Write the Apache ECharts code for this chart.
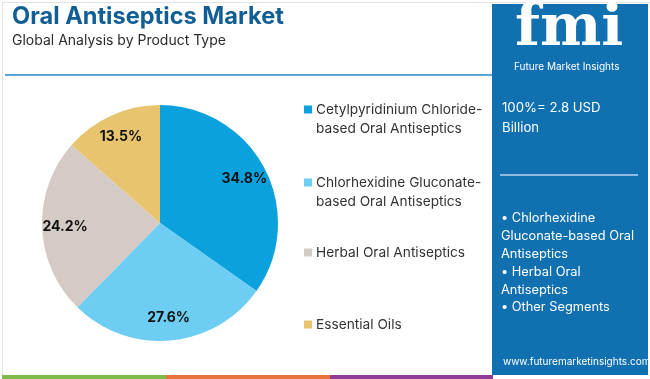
<!DOCTYPE html>
<html><head><meta charset="utf-8">
<script src="https://cdn.jsdelivr.net/npm/echarts@6/dist/echarts.min.js"></script>
<style>html,body{margin:0;padding:0;background:#fff}#c{width:650px;height:379px}</style>
</head><body><div id="c"></div>
<script>
const categories = [
  'Cetylpyridinium Chloride-\nbased Oral Antiseptics',
  'Chlorhexidine Gluconate-\nbased Oral Antiseptics',
  'Herbal Oral Antiseptics',
  'Essential Oils'
];
const values = [34.8, 27.6, 24.2, 13.5];
const colors = ['#0aa1dc', '#6dcdf2', '#d5cbc6', '#e8c46e'];
const titleText = 'Oral Antiseptics Market';
const subtitleText = 'Global Analysis by Product Type';
const totalText = ['100%= 2.8 USD', 'Billion'];
const bulletLines = ['• Chlorhexidine', 'Gluconate-based Oral', 'Antiseptics', '• Herbal Oral', 'Antiseptics', '• Other Segments'];
const siteText = 'www.futuremarketinsights.com';

const FONT = 'Inter, "Noto Sans", sans-serif';
const chart = echarts.init(document.getElementById('c'), null, {renderer: 'canvas'});
const data = categories.map((n, i) => ({name: n, value: values[i], itemStyle: {color: colors[i]}}));
const legendTops = [95, 168, 238, 310];
const legends = categories.map((n, i) => {
  const two = n.indexOf('\n') >= 0;
  return {
    left: 299, top: legendTops[i], orient: 'vertical',
    data: [{name: n, icon: two ? 'path://M0,0L8,0L8,8L0,8Z M0,27L0.05,27L0.05,27.05Z' : 'rect'}],
    itemWidth: 8, itemHeight: two ? 27 : 8, itemGap: 0,
    selectedMode: false,
    textStyle: {fontFamily: FONT, fontSize: 13.7, color: '#333', lineHeight: 19, padding: [0, 0, 0, -1]}
  };
});
const gtext = (x, y, t, size, color, weight, extra) => Object.assign({
  type: 'text', left: x, top: y,
  style: {text: t, fontFamily: FONT, fontSize: size, fill: color, fontWeight: weight || 'normal'}
}, extra || {});

chart.setOption({
  animation: false,
  legend: legends,
  series: [
    {
      type: 'pie', radius: [0, 118], center: [160, 223], startAngle: 90, clockwise: true,
      data: data, label: {show: false}, labelLine: {show: false}, silent: true,
      itemStyle: {borderWidth: 0}
    },
    {
      type: 'pie', radius: [66, 118], center: [160, 223], startAngle: 90, clockwise: true,
      data: data.map(d => ({name: d.name, value: d.value, itemStyle: {color: 'rgba(0,0,0,0)'}})),
      silent: true, legendHoverLink: false,
      label: {show: true, position: 'inside', formatter: p => p.value.toFixed(1) + '%',
        fontFamily: FONT, fontSize: 14, fontWeight: 'bold', color: '#111'},
      labelLine: {show: false}
    }
  ],
  graphic: [
    {type: 'rect', left: 0, top: 0, shape: {width: 649, height: 378}, style: {fill: 'none', stroke: '#e2e2e2', lineWidth: 1}, z: -1},
    gtext(12, 5, titleText, 23.6, '#115e95', 'bold'),
    gtext(12, 34, subtitleText, 14, '#2b2b2b'),
    {type: 'rect', left: 5, top: 74, shape: {width: 487, height: 2}, style: {fill: '#5ca6d3'}},
    {type: 'rect', left: 492, top: 4, shape: {width: 156, height: 371}, style: {fill: '#1170b0'}},
    {type: 'text', left: 515, top: 1, style: {text: 'fmi', fontFamily: '"DejaVu Serif", serif', fontSize: 58, fontWeight: 'bold', fill: '#ffffff'}},
    gtext(514, 62, 'Future Market Insights', 10, '#ffffff'),
    gtext(502, 102, totalText[0], 13.2, '#ffffff'),
    gtext(502, 122, totalText[1], 13.2, '#ffffff'),
    {type: 'rect', left: 500, top: 174, shape: {width: 138, height: 2}, style: {fill: '#8fbbe0'}},
    ...bulletLines.map((t, i) => gtext(501, 212 + i * 17.8, t, 12.8, '#ffffff')),
    gtext(503, 357, siteText, 10, '#ffffff'),
    {type: 'rect', left: 2, top: 375, shape: {width: 164, height: 4}, style: {fill: '#7dbb48'}},
    {type: 'rect', left: 166, top: 375, shape: {width: 164, height: 4}, style: {fill: '#e8733c'}},
    {type: 'rect', left: 330, top: 375, shape: {width: 163, height: 4}, style: {fill: '#8f3c97'}}
  ]
});
</script></body></html>
